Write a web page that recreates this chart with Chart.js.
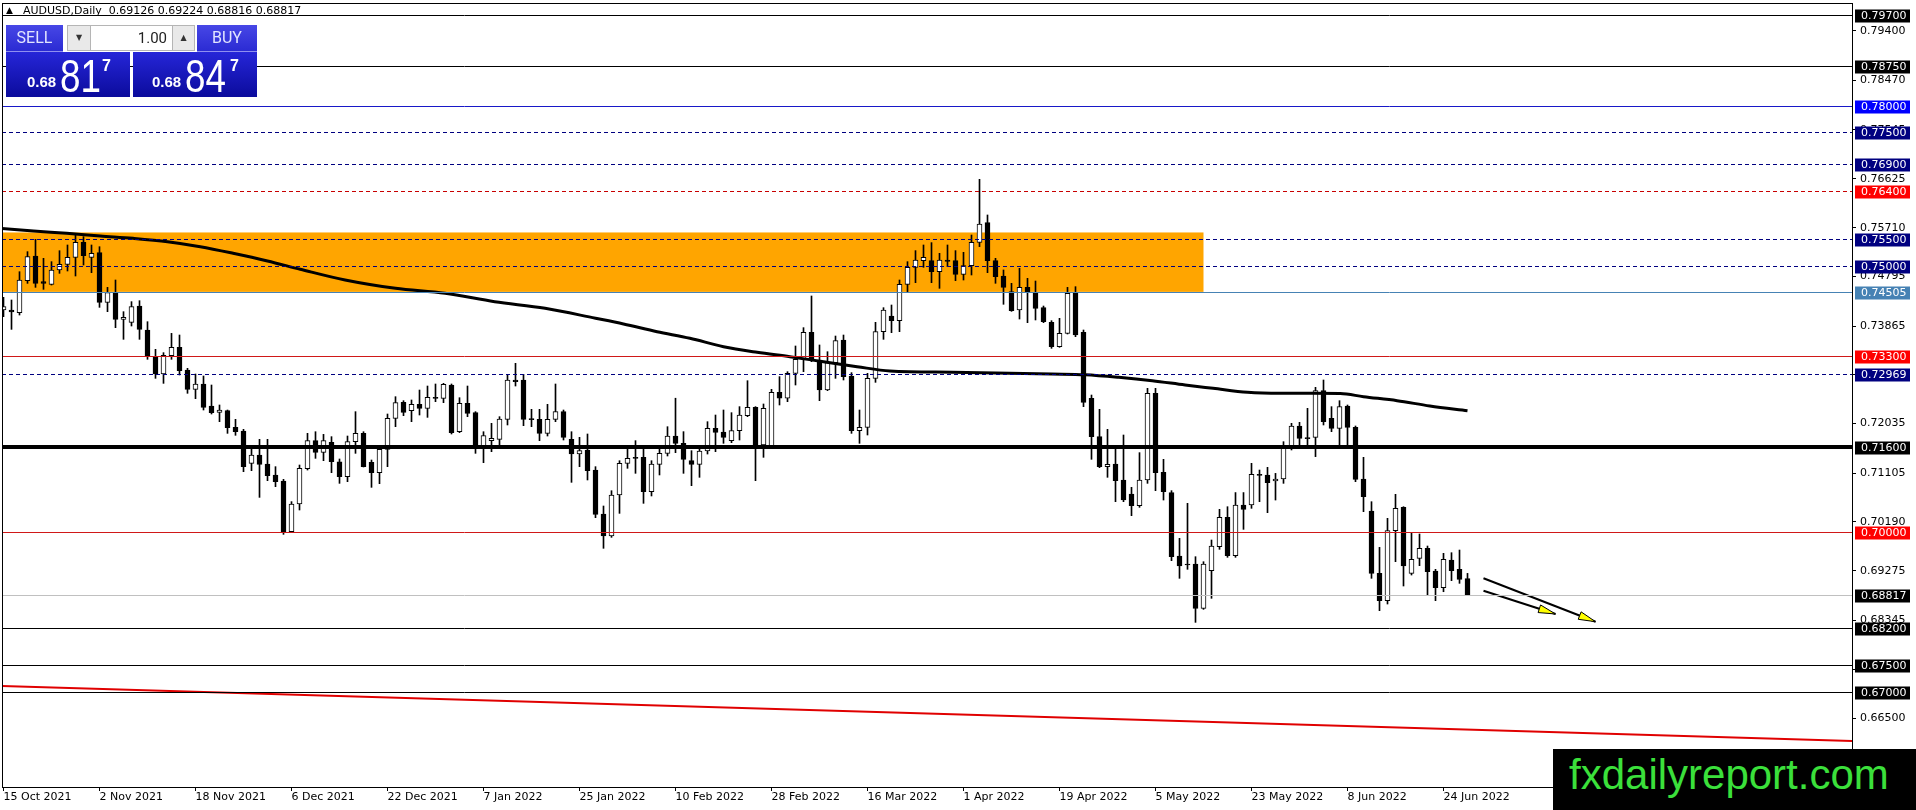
<!DOCTYPE html>
<html lang="en">
<head>
<meta charset="UTF-8">
<title>AUDUSD, Daily</title>
<script src="https://cdn.jsdelivr.net/npm/chart.js"></script>
<style>
    body { margin: 0; background: #fff; font-family: "DejaVu Sans", sans-serif; }
    #quadro { position: relative; width: 1916px; height: 810px; overflow: hidden; background: #fff; }
    #grafico { position: absolute; left: 0; top: 0; }
    .titulo { position: absolute; top: 4px; font-size: 11px; line-height: 13px; color: #000; white-space: nowrap; }
    .botao { position: absolute; top: 25px; height: 27px; box-sizing: border-box; background: linear-gradient(#4747e6, #2b2bd3);
             color: #e2e5ff; font: 16px Roboto, sans-serif; text-align: center; line-height: 26px; border-bottom: 1px solid #8f8ff0; }
    .seta { position: absolute; top: 25px; height: 26px; box-sizing: border-box; background: #e9e9e9; border: 1px solid #b5b5b5;
            font-size: 8px; line-height: 24px; text-align: center; color: #333; }
    .valor { position: absolute; top: 25px; left: 91px; width: 81px; height: 26px; box-sizing: border-box; background: #fff;
             border: 1px solid #b5b5b5; border-left: none; border-right: none; font: 15px Roboto, sans-serif; line-height: 24px;
             text-align: right; padding-right: 5px; color: #222; }
    .preco { position: absolute; top: 52px; width: 124px; height: 45px; background: linear-gradient(#2626d8, #0b0b9c); color: #fff;
             font-family: "Liberation Sans", sans-serif; }
    .preco span { position: absolute; white-space: nowrap; }
    .pequeno { top: 22px; font-weight: bold; font-size: 15px; line-height: 15px; }
    .grande { top: 1px; font-size: 46px; line-height: 46px; transform: scaleX(0.8); transform-origin: left top; }
    .expoente { top: 6px; font-weight: bold; font-size: 16px; line-height: 16px; }
    #marca { position: absolute; left: 1553px; top: 749px; width: 363px; height: 61px; background: #000; }
    #marca span { position: absolute; left: 16px; top: 5px; font: 42px "Liberation Sans", sans-serif; line-height: 42px; color: #3be03b; white-space: nowrap; }
</style>
</head>
<body>
<div id="quadro">
    <canvas id="grafico" width="1916" height="810"></canvas>
    <div class="titulo" style="left:6px;font-size:9px;">&#9650;</div>
    <div class="titulo" style="left:23px;">AUDUSD,Daily&nbsp; 0.69126 0.69224 0.68816 0.68817</div>

    <div class="botao" style="left:6px;width:57px;">SELL</div>
    <div class="seta" style="left:67px;width:24px;">&#9660;</div>
    <div class="valor">1.00</div>
    <div class="seta" style="left:172px;width:23px;">&#9650;</div>
    <div class="botao" style="left:197px;width:60px;">BUY</div>
    <div class="preco" style="left:6px;">
        <span class="pequeno" style="left:21px;">0.68</span>
        <span class="grande" style="left:54px;">81</span>
        <span class="expoente" style="left:96px;">7</span>
    </div>
    <div class="preco" style="left:133px;">
        <span class="pequeno" style="left:19px;">0.68</span>
        <span class="grande" style="left:52px;">84</span>
        <span class="expoente" style="left:97px;">7</span>
    </div>

    <div id="marca"><span>fxdailyreport.com</span></div>
</div>

<script>
    // candles AUDUSD diário, 15 Oct 2021 .. 29 Jun 2022
    var opens = [
        0.74165, 0.74165, 0.74115, 0.74716, 0.75178, 0.74697, 0.74647, 0.74916, 0.75022, 0.75153,
        0.75435, 0.75153, 0.75241, 0.74309, 0.7449, 0.7399, 0.73934, 0.7424, 0.7379, 0.7329,
        0.72964, 0.73308, 0.73465, 0.73039, 0.72677, 0.72777, 0.72364, 0.72245, 0.72277, 0.71964,
        0.71895, 0.71288, 0.71445, 0.71276, 0.7107, 0.70957, 0.70006, 0.70525, 0.71188, 0.71714,
        0.71495, 0.71682, 0.71319, 0.71038, 0.71695, 0.71851, 0.71307, 0.71113, 0.71551, 0.72133,
        0.72433, 0.72277, 0.72395, 0.7232, 0.72527, 0.72508, 0.72758, 0.71882, 0.72414, 0.72239,
        0.7162, 0.71714, 0.71739, 0.72114, 0.72852, 0.72852, 0.7212, 0.72114, 0.71851, 0.72114,
        0.72258, 0.71739, 0.71464, 0.71539, 0.71163, 0.70338, 0.69925, 0.70694, 0.71288, 0.71395,
        0.71401, 0.70757, 0.7127, 0.71476, 0.71801, 0.71664, 0.71338, 0.7127, 0.7152, 0.71945,
        0.71876, 0.71714, 0.71901, 0.72183, 0.72339, 0.71632, 0.7162, 0.72621, 0.7251, 0.72977,
        0.7324, 0.73746, 0.73227, 0.72664, 0.73177, 0.73602, 0.72927, 0.71901, 0.71964, 0.72883,
        0.73759, 0.74053, 0.73965, 0.74647, 0.74966, 0.75091, 0.75091, 0.74885, 0.75103, 0.75091,
        0.74834, 0.74997, 0.75435, 0.75804, 0.75091, 0.74803, 0.74509, 0.74165, 0.7459, 0.74497,
        0.74209, 0.73934, 0.73477, 0.73728, 0.74478, 0.73746, 0.72508, 0.71789, 0.71226, 0.71276,
        0.70976, 0.70713, 0.70494, 0.70976, 0.72602, 0.71119, 0.70738, 0.6955, 0.694, 0.694,
        0.68568, 0.69275, 0.69725, 0.70275, 0.69556, 0.70507, 0.70507, 0.71082, 0.7107, 0.70957,
        0.70995, 0.71589, 0.71989, 0.71764, 0.71776, 0.72652, 0.72133, 0.71945, 0.72364, 0.71964,
        0.70995, 0.70394, 0.69225, 0.68712, 0.70025, 0.70463, 0.69225, 0.69506, 0.69694, 0.69268,
        0.68956, 0.69475, 0.693, 0.69126
    ];
    var highs = [
        0.74403, 0.74353, 0.74884, 0.7526, 0.75491, 0.75135, 0.75072, 0.75278, 0.75385, 0.75572,
        0.75541, 0.75385, 0.75353, 0.7459, 0.74728, 0.74134, 0.74322, 0.7434, 0.73946, 0.73427,
        0.73365, 0.73727, 0.73696, 0.73071, 0.72964, 0.72927, 0.72758, 0.72383, 0.72289, 0.72114,
        0.71926, 0.71601, 0.71739, 0.71739, 0.71226, 0.70988, 0.7057, 0.71257, 0.71851, 0.71882,
        0.71832, 0.71789, 0.7137, 0.71801, 0.72258, 0.71882, 0.71351, 0.71601, 0.72214, 0.72539,
        0.72464, 0.72477, 0.72664, 0.72739, 0.72777, 0.72789, 0.72777, 0.7252, 0.72739, 0.72258,
        0.71882, 0.72039, 0.72164, 0.72958, 0.73165, 0.72958, 0.72302, 0.72302, 0.72395, 0.72777,
        0.72289, 0.71882, 0.71776, 0.71839, 0.71226, 0.70488, 0.70775, 0.71338, 0.71551, 0.71714,
        0.71551, 0.71338, 0.71551, 0.71976, 0.7251, 0.71883, 0.71526, 0.71551, 0.7207, 0.72195,
        0.72289, 0.72239, 0.72352, 0.72839, 0.72352, 0.72402, 0.72677, 0.72915, 0.73008, 0.7349,
        0.73834, 0.74428, 0.73509, 0.73383, 0.73677, 0.73696, 0.7299, 0.72289, 0.72977, 0.73934,
        0.74209, 0.74259, 0.74728, 0.75072, 0.75279, 0.75385, 0.75429, 0.75229, 0.75385, 0.75279,
        0.75247, 0.75572, 0.76617, 0.75948, 0.75135, 0.74916, 0.74666, 0.74947, 0.74759, 0.74709,
        0.7424, 0.73965, 0.74009, 0.7459, 0.74603, 0.7379, 0.7257, 0.72302, 0.71926, 0.7157,
        0.7182, 0.70838, 0.71489, 0.72696, 0.72696, 0.71364, 0.70776, 0.69881, 0.70538, 0.69537,
        0.69443, 0.6985, 0.70425, 0.70475, 0.7074, 0.7074, 0.71289, 0.71163, 0.71213, 0.711,
        0.71695, 0.72039, 0.72058, 0.7232, 0.72714, 0.72852, 0.72352, 0.72464, 0.72383, 0.71989,
        0.71401, 0.70569, 0.69712, 0.70257, 0.70707, 0.70475, 0.69988, 0.69963, 0.69737, 0.693,
        0.696, 0.69612, 0.69662, 0.69224
    ];
    var lows = [
        0.7404, 0.73802, 0.74071, 0.74665, 0.7459, 0.74553, 0.74634, 0.74853, 0.74897, 0.74803,
        0.75009, 0.74866, 0.74215, 0.74134, 0.73834, 0.73615, 0.73865, 0.73615, 0.7324, 0.72883,
        0.72789, 0.7324, 0.72946, 0.72602, 0.72502, 0.72289, 0.72214, 0.7207, 0.71851, 0.71814,
        0.71132, 0.71151, 0.7065, 0.70963, 0.70851, 0.69956, 0.69988, 0.70413, 0.71163, 0.71382,
        0.71338, 0.71113, 0.70913, 0.70944, 0.71476, 0.7122, 0.70838, 0.70907, 0.71226, 0.71976,
        0.72183, 0.7207, 0.72195, 0.72151, 0.72445, 0.72427, 0.71839, 0.71864, 0.72164, 0.71476,
        0.71301, 0.71507, 0.71632, 0.72008, 0.72739, 0.71995, 0.71976, 0.71714, 0.71801, 0.7207,
        0.71726, 0.70932, 0.71226, 0.70976, 0.70269, 0.69694, 0.699, 0.7035, 0.71195, 0.71101,
        0.70538, 0.70676, 0.7107, 0.71426, 0.71488, 0.71101, 0.70869, 0.71026, 0.71463, 0.71507,
        0.71664, 0.71676, 0.71726, 0.72164, 0.70963, 0.71401, 0.71601, 0.72383, 0.72445, 0.72758,
        0.73008, 0.73196, 0.72464, 0.72652, 0.72883, 0.72852, 0.71851, 0.71664, 0.7182, 0.72808,
        0.73615, 0.7374, 0.73759, 0.74509, 0.74678, 0.74966, 0.74678, 0.74572, 0.74978, 0.74716,
        0.74728, 0.74822, 0.75354, 0.74866, 0.74666, 0.74272, 0.7414, 0.73996, 0.73928, 0.73978,
        0.73928, 0.73446, 0.73465, 0.73715, 0.73665, 0.72352, 0.71364, 0.71207, 0.71026, 0.70569,
        0.70569, 0.70307, 0.70463, 0.70913, 0.70776, 0.706, 0.69462, 0.69131, 0.693, 0.68305,
        0.68549, 0.68756, 0.69675, 0.69525, 0.69525, 0.7005, 0.70444, 0.70569, 0.70363, 0.706,
        0.70913, 0.71539, 0.7157, 0.7157, 0.71414, 0.72008, 0.71883, 0.71632, 0.71614, 0.70944,
        0.70382, 0.69131, 0.68524, 0.68649, 0.69443, 0.68987, 0.69193, 0.69368, 0.68818, 0.68712,
        0.6888, 0.69087, 0.69037, 0.68816
    ];
    var closes = [
        0.74228, 0.74128, 0.74728, 0.75166, 0.74665, 0.74665, 0.74916, 0.75022, 0.75153, 0.75435,
        0.75185, 0.75229, 0.74309, 0.7449, 0.7399, 0.74028, 0.74228, 0.73802, 0.7329, 0.72964,
        0.73315, 0.73465, 0.73027, 0.72677, 0.72777, 0.72339, 0.72239, 0.72289, 0.71958, 0.71882,
        0.71226, 0.71445, 0.71269, 0.71057, 0.70944, 0.69994, 0.70525, 0.71194, 0.71714, 0.71495,
        0.71714, 0.71319, 0.71038, 0.71695, 0.71851, 0.71226, 0.71113, 0.71551, 0.72133, 0.72427,
        0.72245, 0.72395, 0.7232, 0.72527, 0.72508, 0.7277, 0.71864, 0.72414, 0.72227, 0.71601,
        0.71807, 0.71757, 0.7212, 0.72852, 0.72821, 0.72114, 0.72108, 0.71851, 0.72114, 0.72258,
        0.71776, 0.71464, 0.71526, 0.71151, 0.70332, 0.69925, 0.70694, 0.71288, 0.71382, 0.71382,
        0.70757, 0.71276, 0.71476, 0.71801, 0.71664, 0.71363, 0.7127, 0.7152, 0.71945, 0.7187,
        0.71776, 0.71901, 0.72195, 0.72339, 0.71632, 0.7232, 0.72621, 0.7251, 0.72977, 0.7324,
        0.73746, 0.7324, 0.72664, 0.73177, 0.7359, 0.72915, 0.71901, 0.71964, 0.72883, 0.73759,
        0.74165, 0.73965, 0.74647, 0.74966, 0.75103, 0.75153, 0.74885, 0.75103, 0.75078, 0.74834,
        0.74997, 0.75435, 0.75779, 0.75091, 0.74791, 0.7459, 0.74153, 0.7459, 0.74509, 0.74197,
        0.73946, 0.73477, 0.73728, 0.74478, 0.73696, 0.72433, 0.71789, 0.71226, 0.7127, 0.70963,
        0.706, 0.70494, 0.70976, 0.72602, 0.71113, 0.70757, 0.69537, 0.69362, 0.69381, 0.68568,
        0.694, 0.69737, 0.70275, 0.69556, 0.70507, 0.70425, 0.71082, 0.71063, 0.70926, 0.70995,
        0.71589, 0.71989, 0.71757, 0.71751, 0.72652, 0.7207, 0.71945, 0.72352, 0.71964, 0.70988,
        0.70663, 0.69225, 0.68712, 0.70025, 0.70444, 0.69362, 0.69487, 0.69694, 0.69256, 0.68956,
        0.69487, 0.69275, 0.69112, 0.68817
    ];

    // eixo do tempo: uma data a cada 12 barras
    var dateTicks = [0, 12, 24, 36, 48, 60, 72, 84, 96, 108, 120, 132, 144, 156, 168, 180];
    var dateLabels = ['15 Oct 2021', '2 Nov 2021', '18 Nov 2021', '6 Dec 2021', '22 Dec 2021', '7 Jan 2022',
        '25 Jan 2022', '10 Feb 2022', '28 Feb 2022', '16 Mar 2022', '1 Apr 2022', '19 Apr 2022',
        '5 May 2022', '23 May 2022', '8 Jun 2022', '24 Jun 2022'];

    // escala de preço do lado direito
    var priceTicks = [0.794, 0.7847, 0.77545, 0.76625, 0.7571, 0.74795, 0.73865, 0.7295, 0.72035,
        0.71105, 0.7019, 0.69275, 0.68345, 0.67425, 0.665];

    // média móvel
    var maIdx = [-0.4, 3.75, 7.9, 12.1, 16.2, 20.5, 24.6, 28.7, 33, 37.1, 42.7, 49, 55.2, 61.4, 67.7,
        74, 77.5, 81.7, 85.8, 90, 94.2, 98.3, 102.5, 106.7, 110.8, 118.6, 124, 131, 135.2, 139.4,
        143.6, 147.7, 151.2, 155.5, 159.6, 163.7, 167.1, 170, 174.2, 178.3, 183];
    var maValues = [0.75698, 0.75647, 0.75604, 0.75554, 0.7551, 0.75447, 0.75353, 0.75229, 0.75085,
        0.74929, 0.74728, 0.74572, 0.74479, 0.74321, 0.74197, 0.7401, 0.73903, 0.73758, 0.73634,
        0.73477, 0.73372, 0.73289, 0.73195, 0.73102, 0.73021, 0.72998, 0.72985, 0.72965, 0.72951,
        0.72903, 0.72839, 0.72758, 0.72696, 0.72621, 0.72602, 0.72602, 0.72598, 0.72539, 0.72464,
        0.72364, 0.72276];

    // níveis horizontais
    var levelPrices = [0.797, 0.7875, 0.78, 0.775, 0.769, 0.764, 0.755, 0.75, 0.74505, 0.733,
        0.72969, 0.716, 0.70, 0.68817, 0.682, 0.675, 0.67];
    var levelColors = ['#000000', '#000000', '#1818c8', '#000080', '#000080', '#c80000', '#000080',
        '#000080', '#4682b4', '#d01818', '#000080', '#000000', '#d01818', '#c0c0c0', '#000000',
        '#000000', '#000000'];
    var levelBoxColors = ['#000000', '#000000', '#0000ff', '#000080', '#000080', '#ff0000', '#000080',
        '#000080', '#4682b4', '#ff0000', '#000080', '#000000', '#ff0000', '#000000', '#000000',
        '#000000', '#000000'];
    var levelDashed = [false, false, false, true, true, true, true, true, false, false, true, false,
        false, false, false, false, false];
    var levelWidths = [1, 1, 1, 1, 1, 1, 1, 1, 1, 1, 1, 4, 1, 1, 1, 1, 1];

    // zona laranja e linha de tendência
    var zonePrices = [0.74505, 0.7562];
    var zoneEnd = 150;
    var trendIdx = [-1, 232];
    var trendValues = [0.67114, 0.66076];

    // setas de projeção
    var arrowIdx = [[185, 199], [185, 194]];
    var arrowValues = [[0.69132, 0.68317], [0.68899, 0.68462]];

    Chart.defaults.font.family = '"DejaVu Sans", sans-serif';
    Chart.defaults.font.size = 11;
    Chart.defaults.color = '#000';

    var wickData = opens.map(function (o, i) { return { x: i, y: [lows[i], highs[i]] }; });
    var bodyData = opens.map(function (o, i) { return { x: i, y: [o, closes[i]] }; });
    var bodyColors = opens.map(function (o, i) { return closes[i] >= o ? '#ffffff' : '#000000'; });

    var niveis = {
        id: 'niveis',
        beforeDatasetsDraw: function (chart) {
            var ctx = chart.ctx, a = chart.chartArea, x = chart.scales.x, y = chart.scales.y;
            var yTop = y.getPixelForValue(zonePrices[1]);
            var yBot = y.getPixelForValue(zonePrices[0]);
            ctx.save();
            ctx.fillStyle = '#ffa500';
            ctx.fillRect(a.left, yTop, x.getPixelForValue(zoneEnd) - a.left, yBot - yTop);
            ctx.restore();
        },
        afterDatasetsDraw: function (chart) {
            var ctx = chart.ctx, a = chart.chartArea, x = chart.scales.x, y = chart.scales.y;
            ctx.save();
            ctx.beginPath();
            ctx.rect(a.left, a.top, a.right - a.left, a.bottom - a.top);
            ctx.clip();
            levelPrices.forEach(function (p, i) {
                var py = Math.round(y.getPixelForValue(p)) + (levelWidths[i] % 2 ? 0.5 : 0);
                ctx.strokeStyle = levelColors[i];
                ctx.lineWidth = levelWidths[i];
                ctx.setLineDash(levelDashed[i] ? [4, 3] : []);
                ctx.beginPath();
                ctx.moveTo(a.left, py);
                ctx.lineTo(a.right, py);
                ctx.stroke();
            });
            ctx.setLineDash([]);
            // pontas amarelas das setas
            arrowIdx.forEach(function (xs, k) {
                var x0 = x.getPixelForValue(xs[0]), y0 = y.getPixelForValue(arrowValues[k][0]);
                var x1 = x.getPixelForValue(xs[1]), y1 = y.getPixelForValue(arrowValues[k][1]);
                var ang = Math.atan2(y1 - y0, x1 - x0);
                var bx = x1 - 17 * Math.cos(ang), by = y1 - 17 * Math.sin(ang);
                ctx.beginPath();
                ctx.moveTo(x1, y1);
                ctx.lineTo(bx + 4 * Math.sin(ang), by - 4 * Math.cos(ang));
                ctx.lineTo(bx - 4 * Math.sin(ang), by + 4 * Math.cos(ang));
                ctx.closePath();
                ctx.fillStyle = '#ffff00';
                ctx.fill();
                ctx.lineWidth = 1;
                ctx.strokeStyle = '#000';
                ctx.stroke();
            });
            ctx.restore();
            ctx.save();
            ctx.strokeStyle = '#000';
            ctx.lineWidth = 1;
            ctx.strokeRect(a.left + 0.5, a.top + 0.5, a.right - a.left, a.bottom - a.top);
            ctx.restore();
        },
        afterDraw: function (chart) {
            var ctx = chart.ctx, a = chart.chartArea, y = chart.scales.y;
            ctx.save();
            ctx.font = '11px "DejaVu Sans"';
            ctx.textBaseline = 'middle';
            levelPrices.forEach(function (p, i) {
                var py = Math.round(y.getPixelForValue(p));
                ctx.fillStyle = levelBoxColors[i];
                ctx.fillRect(a.right + 3, py - 5.5, 55, 13);
                ctx.fillStyle = '#fff';
                ctx.fillText(p.toFixed(5), a.right + 9, py + 1);
            });
            ctx.restore();
        }
    };

    var datasets = [
        { type: 'bar', data: wickData, backgroundColor: '#000', barThickness: 1, grouped: false, order: 5 },
        { type: 'bar', data: bodyData, backgroundColor: bodyColors, borderColor: '#000', borderWidth: 1,
          borderSkipped: false, barThickness: 5, minBarLength: 1, grouped: false, order: 4 },
        { type: 'line', data: trendIdx.map(function (v, i) { return { x: v, y: trendValues[i] }; }),
          borderColor: '#e00000', borderWidth: 2, pointRadius: 0, order: 3 },
        { type: 'line', data: maIdx.map(function (v, i) { return { x: v, y: maValues[i] }; }),
          borderColor: '#000', borderWidth: 3, pointRadius: 0, cubicInterpolationMode: 'monotone', order: 2 }
    ];
    arrowIdx.forEach(function (xs, k) {
        datasets.push({ type: 'line', data: [{ x: xs[0], y: arrowValues[k][0] }, { x: xs[1], y: arrowValues[k][1] }],
            borderColor: '#000', borderWidth: 2, pointRadius: 0, order: 1 });
    });

    new Chart(document.getElementById('grafico'), {
        type: 'bar',
        data: { datasets: datasets },
        options: {
            responsive: false,
            devicePixelRatio: 1,
            animation: false,
            layout: { padding: { left: 2, top: 3, right: 0, bottom: 0 } },
            plugins: { legend: { display: false }, tooltip: { enabled: false } },
            scales: {
                x: {
                    type: 'linear', min: -0.1875, max: 231.0625, offset: false,
                    afterBuildTicks: function (s) { s.ticks = dateTicks.map(function (v) { return { value: v }; }); },
                    afterFit: function (s) { s.height = 23; s.paddingLeft = 0; s.paddingRight = 0; },
                    grid: { drawOnChartArea: false, offset: false, tickLength: 4, color: '#000' },
                    border: { color: '#000' },
                    ticks: { autoSkip: false, maxRotation: 0, align: 'start', padding: 0,
                        callback: function (v, i) { return dateLabels[i]; } }
                },
                y: {
                    type: 'linear', position: 'right', min: 0.65216, max: 0.79925,
                    afterBuildTicks: function (s) { s.ticks = priceTicks.map(function (v) { return { value: v }; }); },
                    // sem folga extra em cima/embaixo para a área do gráfico começar no y=3
                    afterFit: function (s) { s.width = 64; s.paddingTop = 0; s.paddingBottom = 0; },
                    grid: { drawOnChartArea: false, tickLength: 4, color: '#000' },
                    border: { color: '#000' },
                    ticks: { autoSkip: false, padding: 4, callback: function (v) { return v.toFixed(5); } }
                }
            }
        },
        plugins: [niveis]
    });
</script>
</body>
</html>
